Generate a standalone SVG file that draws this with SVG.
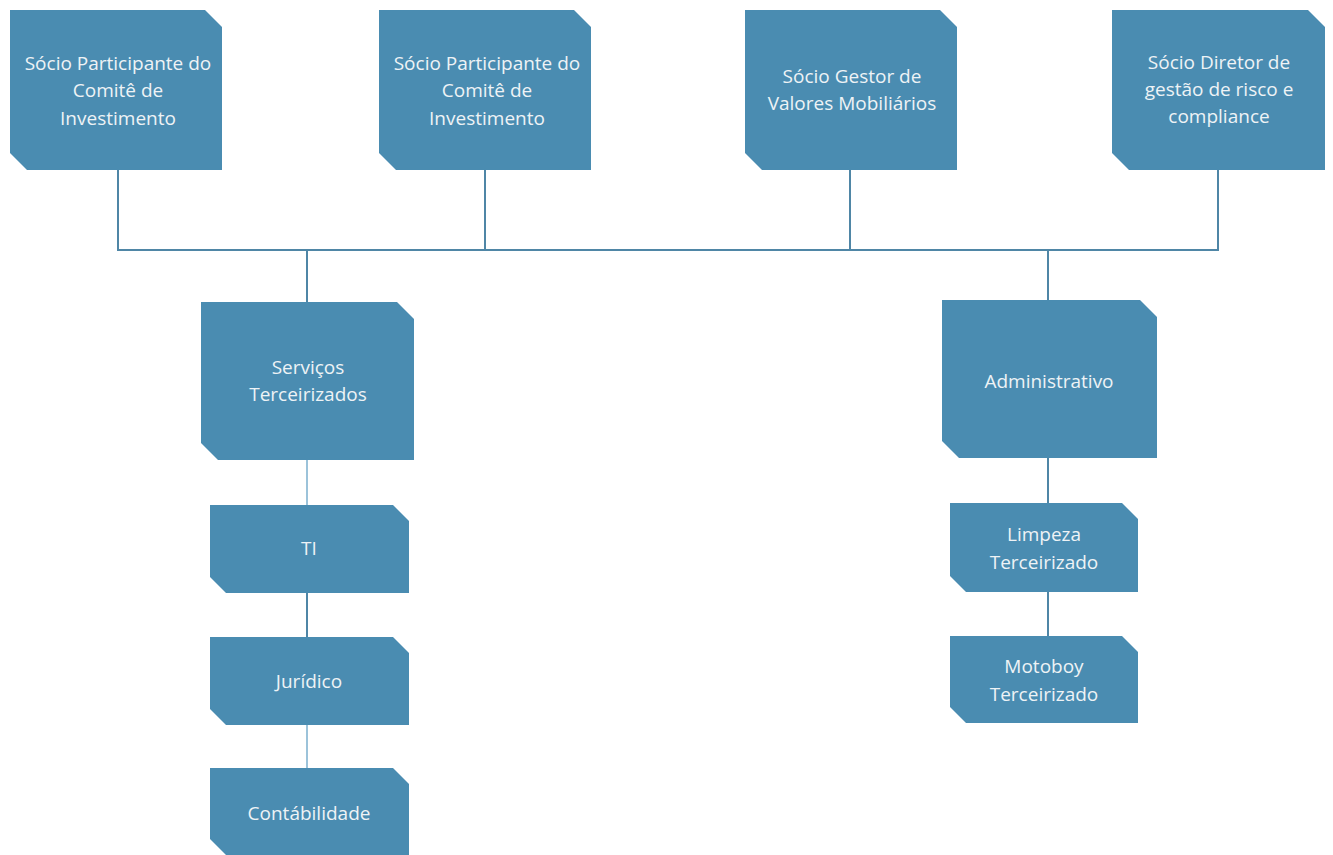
<svg xmlns="http://www.w3.org/2000/svg" width="1333" height="855" viewBox="0 0 1333 855">
<defs>
<style>
.n{fill:#4a8cb1;}
.t{font-family:"Open Sans","Noto Sans",sans-serif;font-size:19px;fill:#eef3f6;text-anchor:middle;dominant-baseline:central;}
.c{stroke:#4f86a6;stroke-width:2;fill:none;}
.cl{stroke:#9cc3da;stroke-width:2;fill:none;}
</style>
</defs>
<rect width="1333" height="855" fill="#ffffff"/>
<g id="connectors">
<path class="c" d="M118 170V250M485 170V250M850 170V250M1218 170V250M117 250H1219M307 250V302M1048 250V300"/>
<path class="cl" d="M307 460V505M307 725V768"/>
<path class="c" d="M307 593V637M1048 458V503M1048 592V636"/>
</g>
<g id="n1"><path class="n" d="M10 10H205L222 27V170H27L10 153Z"/><text class="t" x="118" y="63">Sócio Participante do</text><text class="t" x="118" y="90">Comitê de</text><text class="t" x="118" y="118">Investimento</text></g>
<g id="n2"><path class="n" d="M379 10H574L591 27V170H396L379 153Z"/><text class="t" x="487" y="63">Sócio Participante do</text><text class="t" x="487" y="90">Comitê de</text><text class="t" x="487" y="118">Investimento</text></g>
<g id="n3"><path class="n" d="M745 10H940L957 27V170H762L745 153Z"/><text class="t" x="852" y="76">Sócio Gestor de</text><text class="t" x="852" y="103">Valores Mobiliários</text></g>
<g id="n4"><path class="n" d="M1112 10H1308L1325 27V170H1129L1112 153Z"/><text class="t" x="1219" y="62">Sócio Diretor de</text><text class="t" x="1219" y="89">gestão de risco e</text><text class="t" x="1219" y="116">compliance</text></g>
<g id="n5"><path class="n" d="M201 302H397L414 319V460H218L201 443Z"/><text class="t" x="308" y="367">Serviços</text><text class="t" x="308" y="394">Terceirizados</text></g>
<g id="n6"><path class="n" d="M942 300H1140L1157 317V458H959L942 441Z"/><text class="t" x="1049" y="381">Administrativo</text></g>
<g id="n7"><path class="n" d="M210 505H393L409 521V593H226L210 577Z"/><text class="t" x="309" y="548">TI</text></g>
<g id="n8"><path class="n" d="M210 637H393L409 653V725H226L210 709Z"/><text class="t" x="309" y="681">Jurídico</text></g>
<g id="n9"><path class="n" d="M210 768H393L409 784V855H226L210 839Z"/><text class="t" x="309" y="813">Contábilidade</text></g>
<g id="n10"><path class="n" d="M950 503H1122L1138 519V592H966L950 576Z"/><text class="t" x="1044" y="534">Limpeza</text><text class="t" x="1044" y="562">Terceirizado</text></g>
<g id="n11"><path class="n" d="M950 636H1122L1138 652V723H966L950 707Z"/><text class="t" x="1044" y="666">Motoboy</text><text class="t" x="1044" y="694">Terceirizado</text></g>
</svg>
